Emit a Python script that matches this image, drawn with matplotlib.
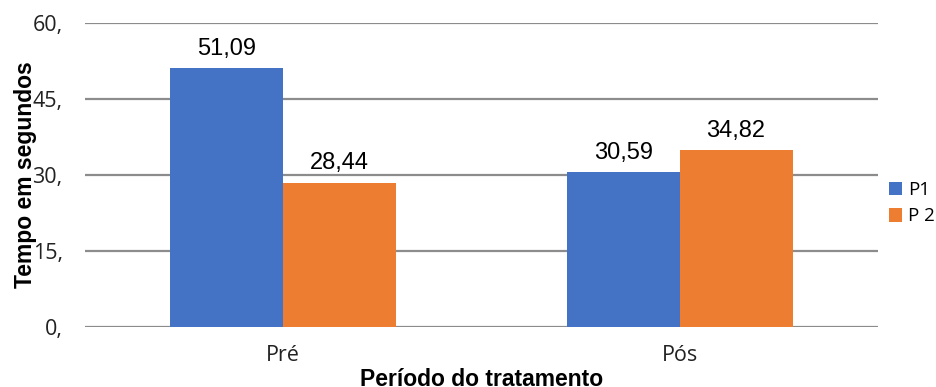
import matplotlib
matplotlib.use("Agg")
import matplotlib.pyplot as plt
import numpy as np

# data
categories = ["Pré", "Pós"]
p1_values = [51.09, 30.59]
p2_values = [28.44, 34.82]
series_names = ["P1", "P 2"]
y_ticks = [0, 15, 30, 45, 60]
y_tick_labels = ["0,", "15,", "30,", "45,", "60,"]

blue = "#4472C4"
orange = "#ED7D31"
grid_col = "#8c8c8c"

fig = plt.figure(figsize=(9.36, 3.87), dpi=100)
ax = fig.add_axes([0.0908, 0.155, 0.847, 0.786])

x = np.arange(len(categories))
w = 0.285
b1 = ax.bar(x - w / 2, p1_values, w, color=blue, label=series_names[0], zorder=3)
b2 = ax.bar(x + w / 2, p2_values, w, color=orange, label=series_names[1], zorder=3)

# value labels above each bar, decimal comma
for bars, vals in ((b1, p1_values), (b2, p2_values)):
    for rect, v in zip(bars, vals):
        ax.annotate(f"{v:.2f}".replace(".", ","),
                    (rect.get_x() + rect.get_width() / 2, v),
                    xytext=(0, 6), textcoords="offset points",
                    ha="center", va="bottom", fontsize=17,
                    family="Liberation Sans", color="#000000")

ax.set_xlim(-0.5, 1.5)
ax.set_ylim(0, 60)
ax.set_yticks(y_ticks)
ax.set_yticklabels(y_tick_labels, family="Open Sans", fontsize=15.5, color="#222222")
ax.set_xticks(x)
ax.set_xticklabels(categories, family="Open Sans", fontsize=15.5, color="#222222")
ax.tick_params(length=0)
ax.tick_params(axis="y", pad=16)
ax.tick_params(axis="x", pad=13)
ax.yaxis.grid(True, color=grid_col, lw=1.6, zorder=0)
for s in ax.spines.values():
    s.set_visible(False)

ax.set_ylabel("Tempo em segundos", family="Liberation Sans", fontweight="bold",
              fontsize=16.5)
ax.yaxis.set_label_coords(-0.06, 0.5)
ax.set_xlabel("Período do tratamento", family="Liberation Sans", fontweight="bold",
              fontsize=16.5)
ax.xaxis.set_label_coords(0.5, -0.135)

fig.legend(handles=[b1, b2], loc="center left", bbox_to_anchor=(0.9455, 0.475),
           frameon=False, borderaxespad=0, borderpad=0.2,
           handlelength=0.72, handleheight=0.72, handletextpad=0.3,
           labelspacing=0.45, prop={"family": "Open Sans", "size": 13.5})

fig.savefig("out.png", dpi=100)
